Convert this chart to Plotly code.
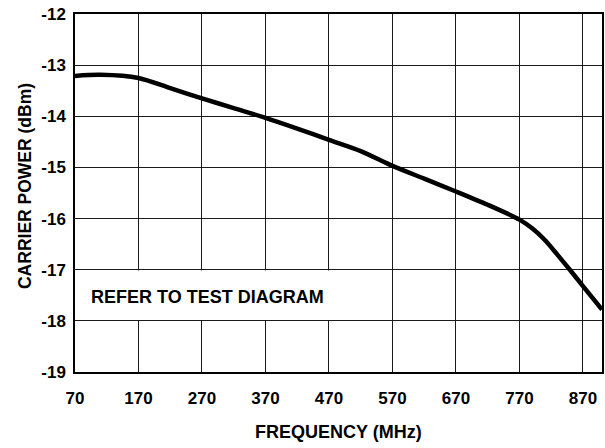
import plotly.graph_objects as go

# Carrier power vs. frequency
freq_mhz = [70, 110, 170, 220, 270, 320, 370, 420, 470, 520, 570, 620,
            670, 720, 770, 790, 810, 830, 850, 870, 900]
carrier_dbm = [-13.21, -13.19, -13.25, -13.45, -13.65, -13.84, -14.03, -14.24,
               -14.46, -14.68, -14.97, -15.22, -15.47, -15.73, -16.02, -16.19,
               -16.42, -16.71, -17.01, -17.32, -17.78]

x_ticks = [70, 170, 270, 370, 470, 570, 670, 770, 870]
y_ticks = [-12, -13, -14, -15, -16, -17, -18, -19]

FONT = "Liberation Sans, Arial, sans-serif"

fig = go.Figure()
fig.add_trace(go.Scatter(
    x=freq_mhz, y=carrier_dbm, mode="lines",
    line=dict(color="black", width=4.5, shape="spline", smoothing=0.8),
    hoverinfo="skip", showlegend=False,
))

axis_common = dict(
    showgrid=True, gridcolor="#1a1a1a", gridwidth=1.3,
    showline=True, linecolor="black", linewidth=1.5, mirror=True,
    zeroline=False, ticks="",
    tickfont=dict(family=FONT, size=17, color="black", weight="bold"),
)

fig.update_xaxes(range=[70, 900], tickvals=x_ticks,
                 ticktext=[str(v) for v in x_ticks],
                 ticklabelstandoff=10, **axis_common)
fig.update_yaxes(range=[-19, -12], tickvals=y_ticks,
                 ticktext=[str(v) for v in y_ticks],
                 ticklabelstandoff=4, **axis_common)

# White band behind the note, hiding the grid between -17 and -18
fig.add_shape(type="rect", xref="x", yref="y", x0=70, x1=500,
              y0=-17.985, y1=-17.015, fillcolor="white",
              line=dict(width=0), layer="between")

fig.add_annotation(x=92, y=-17.53, xref="x", yref="y", xanchor="left",
                   yanchor="middle", showarrow=False,
                   text="<b>REFER TO TEST DIAGRAM</b>",
                   font=dict(family=FONT, size=18, color="black"))

fig.add_annotation(x=0.5, y=-0.1676, xref="paper", yref="paper",
                   xanchor="center", yanchor="middle", showarrow=False,
                   text="<b>FREQUENCY (MHz)</b>",
                   font=dict(family=FONT, size=18, color="black"))
fig.add_annotation(x=-0.0945, y=0.52, xref="paper", yref="paper",
                   xanchor="center", yanchor="middle", showarrow=False,
                   textangle=-90, text="<b>CARRIER POWER (dBm)</b>",
                   font=dict(family=FONT, size=17.5, color="black"))

fig.update_layout(
    width=605, height=448,
    margin=dict(l=75, r=1, t=14, b=76),
    paper_bgcolor="white", plot_bgcolor="white",
)

fig.write_html("out.html")
